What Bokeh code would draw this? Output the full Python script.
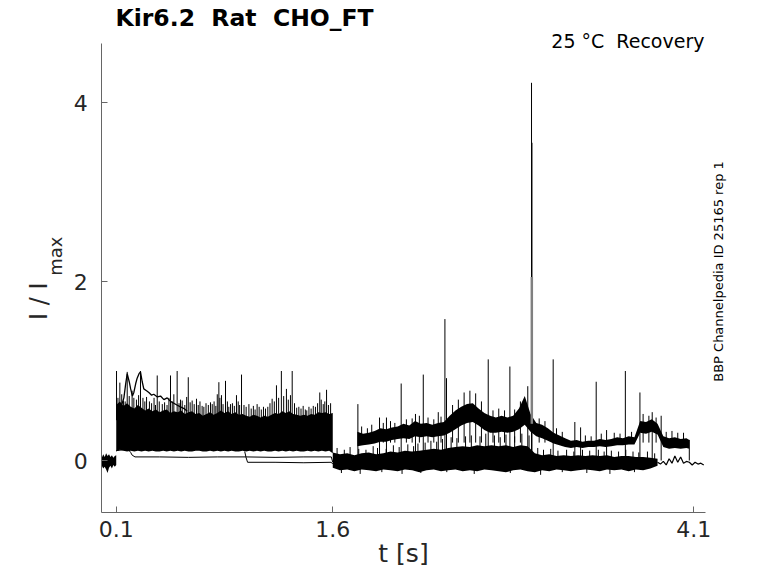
import numpy as np
from bokeh.plotting import figure
from bokeh.models import Range1d, FixedTicker, Label
from bokeh.embed import file_html
from bokeh.resources import INLINE

# ---------------- data ----------------
X_TICKS = [0.1, 1.6, 4.1]
Y_TICKS = [0, 2, 4]
X_LIMITS = (0.0, 4.18)
Y_LIMITS = (-0.581, 4.659)

# pre-pulse baseline (noise envelope)
PRE_T = [0.000, 0.010, 0.020, 0.030, 0.040, 0.050, 0.060, 0.070, 0.080, 0.090, 0.100]
PRE_HI = [0.03, 0.07, 0.04, 0.08, 0.05, 0.07, 0.04, 0.06, 0.03, 0.05, 0.06]
PRE_LO = [-0.06, -0.09, -0.07, -0.10, -0.14, -0.08, -0.06, -0.09, -0.05, -0.07, -0.05]

# dense band of sweeps during the first pulse (envelope)
BAND1_T = [0.100, 0.125, 0.150, 0.175, 0.200, 0.225, 0.250, 0.275, 0.300, 0.325,
           0.350, 0.375, 0.400, 0.425, 0.450, 0.475, 0.500, 0.525, 0.550, 0.575,
           0.600, 0.625, 0.650, 0.675, 0.700, 0.725, 0.750, 0.775, 0.800, 0.825,
           0.850, 0.875, 0.900, 0.925, 0.950, 0.975, 1.000, 1.025, 1.050, 1.075,
           1.100, 1.125, 1.150, 1.175, 1.200, 1.225, 1.250, 1.275, 1.300, 1.325,
           1.350, 1.375, 1.400, 1.425, 1.450, 1.475, 1.500, 1.525, 1.550, 1.575,
           1.600]
BAND1_HI = [0.62, 0.66, 0.61, 0.64, 0.60, 0.58, 0.62, 0.59, 0.56, 0.58,
            0.55, 0.57, 0.54, 0.56, 0.57, 0.53, 0.55, 0.54, 0.56, 0.52,
            0.54, 0.55, 0.52, 0.53, 0.50, 0.52, 0.54, 0.51, 0.53, 0.56,
            0.53, 0.55, 0.52, 0.54, 0.51, 0.52, 0.50, 0.49, 0.51, 0.50,
            0.48, 0.50, 0.49, 0.51, 0.53, 0.52, 0.55, 0.53, 0.55, 0.52,
            0.51, 0.50, 0.51, 0.50, 0.52, 0.51, 0.54, 0.53, 0.54, 0.52,
            0.53]
BAND1_LO = [0.10, 0.12, 0.11, 0.10, 0.11, 0.10, 0.11, 0.10, 0.11, 0.10,
            0.11, 0.10, 0.10, 0.11, 0.10, 0.11, 0.10, 0.11, 0.10, 0.11,
            0.10, 0.10, 0.11, 0.11, 0.10, 0.10, 0.11, 0.10, 0.11, 0.10,
            0.11, 0.10, 0.11, 0.10, 0.10, 0.11, 0.10, 0.11, 0.10, 0.11,
            0.10, 0.11, 0.10, 0.10, 0.11, 0.10, 0.11, 0.10, 0.11, 0.10,
            0.11, 0.10, 0.10, 0.11, 0.10, 0.11, 0.10, 0.11, 0.10, 0.11,
            0.08]

# sweep recovering from a high start
REC_T = [0.105, 0.13, 0.153, 0.165, 0.176, 0.19, 0.20, 0.212, 0.222, 0.235,
         0.245, 0.258, 0.268, 0.28, 0.291, 0.31, 0.326, 0.345, 0.36, 0.385,
         0.407, 0.43, 0.453, 0.476, 0.499, 0.52, 0.545, 0.57, 0.592]
REC_V = [0.62, 0.58, 0.70, 0.85, 0.97, 0.88, 0.80, 0.72, 0.76, 0.86,
         0.92, 0.97, 0.99, 0.88, 0.80, 0.78, 0.76, 0.73, 0.74, 0.71,
         0.72, 0.68, 0.70, 0.66, 0.64, 0.62, 0.60, 0.58, 0.55]

# low sweeps during the first pulse
LOWA_T = [0.10, 0.15, 0.19, 0.20, 0.21, 0.23, 0.40, 0.60, 0.80, 1.00, 1.20, 1.40, 1.59, 1.60]
LOWA_V = [0.11, 0.12, 0.11, 0.09, 0.06, 0.04, 0.04, 0.035, 0.04, 0.04, 0.035, 0.04, 0.04, -0.02]
LOWB_T = [0.99, 1.00, 1.01, 1.20, 1.40, 1.59, 1.60]
LOWB_V = [0.10, 0.03, -0.02, -0.02, -0.025, -0.02, -0.04]

# tall spikes during the first pulse
SPK1_BASE = 0.45
SPK1_T = [0.102, 0.125, 0.150, 0.176, 0.210, 0.268, 0.310, 0.384, 0.419, 0.476,
          0.499, 0.522, 0.557, 0.599, 0.626, 0.656, 0.707, 0.753, 0.811, 0.829,
          0.857, 0.892, 0.933, 0.968, 1.019, 1.076, 1.134, 1.180, 1.210, 1.244,
          1.279, 1.307, 1.319, 1.365, 1.420, 1.510, 1.534, 1.557]
SPK1_V = [1.00, 0.87, 0.67, 0.99, 0.78, 1.00, 0.71, 0.95, 0.63, 0.95,
          0.74, 1.00, 0.67, 0.93, 0.67, 0.69, 0.60, 0.65, 0.875, 0.73,
          0.89, 0.63, 0.73, 0.96, 0.63, 0.63, 0.58, 0.69, 0.84, 1.00,
          0.80, 0.73, 1.00, 0.60, 0.56, 0.76, 0.63, 0.79]
# smaller noise spikes on top of the band
SPK1B_T = [0.112, 0.138, 0.162, 0.190, 0.222, 0.240, 0.255, 0.285, 0.298, 0.330,
           0.345, 0.362, 0.372, 0.398, 0.435, 0.452, 0.465, 0.488, 0.535, 0.545,
           0.575, 0.588, 0.612, 0.640, 0.668, 0.680, 0.695, 0.722, 0.738, 0.765,
           0.778, 0.790, 0.800, 0.818, 0.840, 0.870, 0.880, 0.905, 0.918, 0.945,
           0.955, 0.985, 1.000, 1.035, 1.050, 1.062, 1.090, 1.105, 1.120, 1.150,
           1.165, 1.195, 1.225, 1.260, 1.292, 1.335, 1.350, 1.380, 1.395, 1.410,
           1.435, 1.450, 1.465, 1.480, 1.495, 1.520, 1.545, 1.570, 1.585]
SPK1B_V = [0.70, 0.74, 0.66, 0.72, 0.70, 0.68, 0.73, 0.70, 0.66, 0.66,
           0.64, 0.70, 0.62, 0.66, 0.65, 0.62, 0.70, 0.66, 0.64, 0.68,
           0.62, 0.71, 0.65, 0.63, 0.62, 0.66, 0.61, 0.64, 0.62, 0.63,
           0.66, 0.61, 0.74, 0.70, 0.63, 0.66, 0.60, 0.64, 0.61, 0.66,
           0.62, 0.62, 0.60, 0.58, 0.61, 0.57, 0.60, 0.57, 0.60, 0.60,
           0.64, 0.66, 0.70, 0.72, 0.68, 0.64, 0.59, 0.58, 0.61, 0.57,
           0.60, 0.58, 0.61, 0.60, 0.64, 0.68, 0.66, 0.62, 0.64]

# baseline band after the pulse
BAND2_T = [1.60, 1.65, 1.70, 1.75, 1.80, 1.85, 1.90, 1.95, 2.00, 2.05,
           2.10, 2.15, 2.20, 2.25, 2.30, 2.35, 2.40, 2.45, 2.50, 2.55,
           2.60, 2.65, 2.70, 2.75, 2.80, 2.85, 2.90, 2.95, 3.00, 3.05,
           3.10, 3.15, 3.20, 3.25, 3.30, 3.35, 3.40, 3.45, 3.50, 3.55,
           3.60, 3.65, 3.70, 3.75, 3.80, 3.85]
BAND2_HI = [0.09, 0.07, 0.08, 0.06, 0.08, 0.09, 0.07, 0.08, 0.10, 0.09,
            0.11, 0.10, 0.11, 0.12, 0.13, 0.12, 0.14, 0.15, 0.16, 0.15,
            0.17, 0.16, 0.17, 0.16, 0.17, 0.15, 0.17, 0.16, 0.08, 0.06,
            0.07, 0.05, 0.06, 0.05, 0.06, 0.05, 0.06, 0.05, 0.06, 0.04,
            0.05, 0.05, 0.04, 0.04, 0.03, 0.02]
BAND2_LO = [-0.08, -0.11, -0.10, -0.12, -0.10, -0.11, -0.12, -0.10, -0.11, -0.12,
            -0.10, -0.11, -0.13, -0.11, -0.10, -0.12, -0.11, -0.10, -0.12, -0.11,
            -0.12, -0.10, -0.11, -0.12, -0.13, -0.11, -0.10, -0.12, -0.13, -0.11,
            -0.12, -0.10, -0.11, -0.12, -0.11, -0.10, -0.11, -0.12, -0.10, -0.11,
            -0.10, -0.12, -0.10, -0.11, -0.09, -0.06]
# noise spikes on the top and bottom of that band
SPK4_BASE = 0.0
SPK4_T = [1.63, 1.68, 1.72, 1.78, 1.83, 1.88, 1.91, 1.97, 2.02, 2.06,
          2.12, 2.16, 2.19, 2.24, 2.28, 2.32, 2.36, 2.42, 2.46, 2.52,
          2.56, 2.62, 2.66, 2.72, 2.76, 2.80, 2.86, 2.91, 2.96, 3.02,
          3.06, 3.11, 3.16, 3.22, 3.27, 3.33, 3.38, 3.44, 3.48, 3.53,
          3.58, 3.63, 3.68, 3.72, 3.78, 3.83]
SPK4_V = [0.14, 0.12, 0.15, 0.13, 0.12, 0.16, 0.14, 0.13, 0.17, 0.15,
          0.18, 0.16, 0.19, 0.20, 0.22, 0.21, 0.24, 0.26, 0.25, 0.27,
          0.28, 0.27, 0.30, 0.28, 0.26, 0.29, 0.27, 0.30, 0.28, 0.14,
          0.12, 0.13, 0.11, 0.12, 0.10, 0.12, 0.11, 0.12, 0.10, 0.11,
          0.10, 0.12, 0.10, 0.09, 0.10, 0.08]
SPK5_BASE = -0.08
SPK5_T = [1.66, 1.79, 1.94, 2.08, 2.21, 2.39, 2.58, 2.83, 3.04, 3.19, 3.36, 3.52, 3.69]
SPK5_V = [-0.14, -0.15, -0.13, -0.15, -0.14, -0.13, -0.15, -0.14, -0.16, -0.13, -0.14, -0.15, -0.13]

# elevated sweep after the pulse (envelope)
TRACEC_T = [1.77, 1.81, 1.85, 1.89, 1.93, 1.97, 2.01, 2.05, 2.09, 2.13,
            2.17, 2.21, 2.25, 2.29, 2.33, 2.37, 2.41, 2.45, 2.49, 2.53,
            2.57, 2.61, 2.65, 2.69, 2.73, 2.77, 2.81, 2.85, 2.89, 2.93,
            2.97, 3.01, 3.05, 3.09, 3.13, 3.17, 3.21, 3.25, 3.29, 3.33,
            3.37, 3.41, 3.45, 3.49, 3.53, 3.57, 3.61, 3.65, 3.69, 3.73,
            3.77, 3.81, 3.85, 3.89, 3.93, 3.97, 4.01, 4.05, 4.07]
TRACEC_HI = [0.32, 0.30, 0.31, 0.33, 0.36, 0.35, 0.37, 0.38, 0.41, 0.39,
             0.44, 0.41, 0.42, 0.40, 0.42, 0.43, 0.50, 0.56, 0.60, 0.63,
             0.64, 0.58, 0.53, 0.50, 0.48, 0.50, 0.48, 0.50, 0.58, 0.72,
             0.52, 0.42, 0.40, 0.36, 0.31, 0.28, 0.25, 0.22, 0.23, 0.21,
             0.22, 0.22, 0.24, 0.23, 0.24, 0.26, 0.25, 0.27, 0.26, 0.44,
             0.43, 0.46, 0.41, 0.27, 0.25, 0.26, 0.24, 0.25, 0.23]
TRACEC_LO = [0.16, 0.17, 0.18, 0.19, 0.21, 0.21, 0.23, 0.24, 0.25, 0.24,
             0.27, 0.26, 0.27, 0.26, 0.27, 0.28, 0.31, 0.35, 0.39, 0.42,
             0.43, 0.39, 0.34, 0.31, 0.31, 0.32, 0.31, 0.32, 0.35, 0.40,
             0.32, 0.27, 0.25, 0.22, 0.19, 0.17, 0.15, 0.14, 0.15, 0.14,
             0.15, 0.15, 0.16, 0.15, 0.16, 0.17, 0.17, 0.18, 0.18, 0.31,
             0.30, 0.32, 0.29, 0.15, 0.13, 0.14, 0.13, 0.14, 0.13]
# noise spikes on that sweep
SPK3_BASE = 0.2
SPK3_T = [1.80, 1.84, 1.87, 1.95, 2.00, 2.03, 2.11, 2.15, 2.20, 2.26,
          2.30, 2.35, 2.43, 2.47, 2.51, 2.55, 2.59, 2.63, 2.71, 2.75,
          2.79, 2.86, 2.90, 3.03, 3.07, 3.15, 3.19, 3.35, 3.39, 3.46,
          3.55, 3.59, 3.67, 3.75, 3.79, 3.84, 3.91, 3.95, 3.99, 4.03]
SPK3_V = [0.38, 0.36, 0.40, 0.42, 0.44, 0.42, 0.46, 0.47, 0.50, 0.48,
          0.46, 0.49, 0.62, 0.68, 0.76, 0.78, 0.75, 0.66, 0.56, 0.58,
          0.56, 0.57, 0.66, 0.47, 0.44, 0.36, 0.32, 0.28, 0.27, 0.30,
          0.31, 0.30, 0.32, 0.52, 0.50, 0.48, 0.32, 0.33, 0.31, 0.31]

# tall spikes after the pulse (from baseline)
SPK2_BASE = 0.0
SPK2_T = [1.774, 1.924, 1.972, 2.074, 2.173, 2.227, 2.331, 2.377, 2.388, 2.677,
          2.827, 2.951, 3.127, 3.277, 3.317, 3.425, 3.497, 3.627, 3.728, 3.813,
          3.875, 4.070]
SPK2_V = [0.63, 0.48, 0.48, 0.86, 0.52, 0.96, 0.54, 1.58, 0.92, 1.13,
          1.05, 0.83, 1.13, 0.43, 0.37, 0.88, 0.34, 1.00, 0.76, 0.54,
          0.50, 0.23]

# the largest transient
BIG_T = [2.977, 2.980]
BIG_V = [4.22, 3.55]
BIG_GREY_T = 2.979
BIG_GREY_LO = 0.41
BIG_GREY_HI = 2.05

# tail of the lowest sweep
TAIL_T = [3.85, 3.87, 3.89, 3.91, 3.93, 3.95, 3.97, 3.99, 4.01, 4.03,
          4.05, 4.07, 4.09, 4.11, 4.13, 4.15, 4.17]
TAIL_V = [-0.02, -0.04, -0.01, -0.05, 0.02, -0.03, 0.05, -0.02, 0.04, -0.03,
          -0.01, -0.02, -0.05, -0.02, -0.04, -0.03, -0.05]

NB = "\u00a0"
TITLE = "Kir6.2 " + NB + "Rat " + NB + "CHO_FT"
CONDITION = "25 °C " + NB + "Recovery"
SIDE_NOTE = "BBP Channelpedia ID 25165 rep 1"
X_LABEL = "t [s]"
Y_LABEL_MAIN = "I / I"
Y_LABEL_SUB = "max"

# ---------------- figure ----------------
# frame covers the whole canvas; the axes sit at fixed data locations
PX_PER_S = 144.35
PX_PER_UNIT = 89.5
X0_PX, Y0_PX = 101.3, 460.0
W, H = 762, 567

p = figure(width=W, height=H, output_backend="svg", toolbar_location=None, title=None,
           x_range=Range1d(-X0_PX / PX_PER_S, (W - X0_PX) / PX_PER_S),
           y_range=Range1d((Y0_PX - H) / PX_PER_UNIT, Y0_PX / PX_PER_UNIT),
           min_border_left=0, min_border_right=0, min_border_top=0, min_border_bottom=0)
p.outline_line_color = None
p.grid.visible = False
p.background_fill_color = "white"
p.border_fill_color = "white"

p.xaxis.ticker = FixedTicker(ticks=X_TICKS)
p.yaxis.ticker = FixedTicker(ticks=Y_TICKS)
p.xaxis.fixed_location = Y_LIMITS[0]
p.yaxis.fixed_location = X_LIMITS[0]
p.xaxis.bounds = X_LIMITS
p.yaxis.bounds = Y_LIMITS
for ax in (p.xaxis[0], p.yaxis[0]):
    ax.minor_tick_line_color = None
    ax.major_tick_in = 6
    ax.major_tick_out = 0
    ax.axis_line_color = "#666666"
    ax.major_tick_line_color = "#666666"
    ax.major_label_text_font = "DejaVu Sans"
    ax.major_label_text_font_size = "22px"
    ax.major_label_text_color = "#262626"
p.yaxis.major_label_standoff = 14
p.xaxis.major_label_standoff = 9

K = "black"
p.varea(x=PRE_T, y1=PRE_LO, y2=PRE_HI, fill_color=K)
p.varea(x=BAND1_T, y1=BAND1_LO, y2=BAND1_HI, fill_color=K)
p.segment(x0=SPK1B_T, y0=SPK1_BASE, x1=SPK1B_T, y1=SPK1B_V, line_color=K, line_width=1)
p.line(REC_T, REC_V, line_color=K, line_width=1.3)
p.segment(x0=SPK1_T, y0=SPK1_BASE, x1=SPK1_T, y1=SPK1_V, line_color=K, line_width=1)
p.line(LOWA_T, LOWA_V, line_color=K, line_width=1)
p.line(LOWB_T, LOWB_V, line_color=K, line_width=1)
p.varea(x=BAND2_T, y1=BAND2_LO, y2=BAND2_HI, fill_color=K)
p.segment(x0=SPK4_T, y0=SPK4_BASE, x1=SPK4_T, y1=SPK4_V, line_color=K, line_width=1)
p.segment(x0=SPK5_T, y0=SPK5_BASE, x1=SPK5_T, y1=SPK5_V, line_color=K, line_width=1)
p.varea(x=TRACEC_T, y1=TRACEC_LO, y2=TRACEC_HI, fill_color=K)
p.segment(x0=SPK3_T, y0=SPK3_BASE, x1=SPK3_T, y1=SPK3_V, line_color=K, line_width=1)
p.segment(x0=SPK2_T, y0=SPK2_BASE, x1=SPK2_T, y1=SPK2_V, line_color=K, line_width=1)
p.line(TAIL_T, TAIL_V, line_color=K, line_width=1.2)
p.segment(x0=BIG_T, y0=SPK2_BASE, x1=BIG_T, y1=BIG_V, line_color=K, line_width=1)
p.segment(x0=[BIG_GREY_T], y0=[BIG_GREY_LO], x1=[BIG_GREY_T], y1=[BIG_GREY_HI],
          line_color="#808080", line_width=2.5)

FONT = "DejaVu Sans"
p.add_layout(Label(x=0.095, y=4.944, text=TITLE, text_font=FONT, text_font_size="23.5px",
                   text_font_style="bold", text_color="black",
                   text_align="left", text_baseline="middle"))
p.add_layout(Label(x=4.175, y=4.682, text=CONDITION, text_font=FONT, text_font_size="19px",
                   text_color="black", text_align="right", text_baseline="middle"))
p.add_layout(Label(x=4.269, y=2.112, text=SIDE_NOTE, text_font=FONT, text_font_size="13px",
                   text_color="black", text_align="center", text_baseline="middle",
                   angle=np.pi / 2))
p.add_layout(Label(x=2.09, y=-1.039, text=X_LABEL, text_font=FONT, text_font_size="25px",
                   text_color="#262626", text_align="center", text_baseline="middle"))
p.add_layout(Label(x=-0.4363, y=1.779, text=Y_LABEL_MAIN, text_font=FONT, text_font_size="24px",
                   text_color="#262626", text_align="center", text_baseline="middle",
                   angle=np.pi / 2))
p.add_layout(Label(x=-0.3207, y=2.282, text=Y_LABEL_SUB, text_font=FONT, text_font_size="18px",
                   text_color="#262626", text_align="center", text_baseline="middle",
                   angle=np.pi / 2))

open("out.html", "w").write(file_html(p, INLINE))
